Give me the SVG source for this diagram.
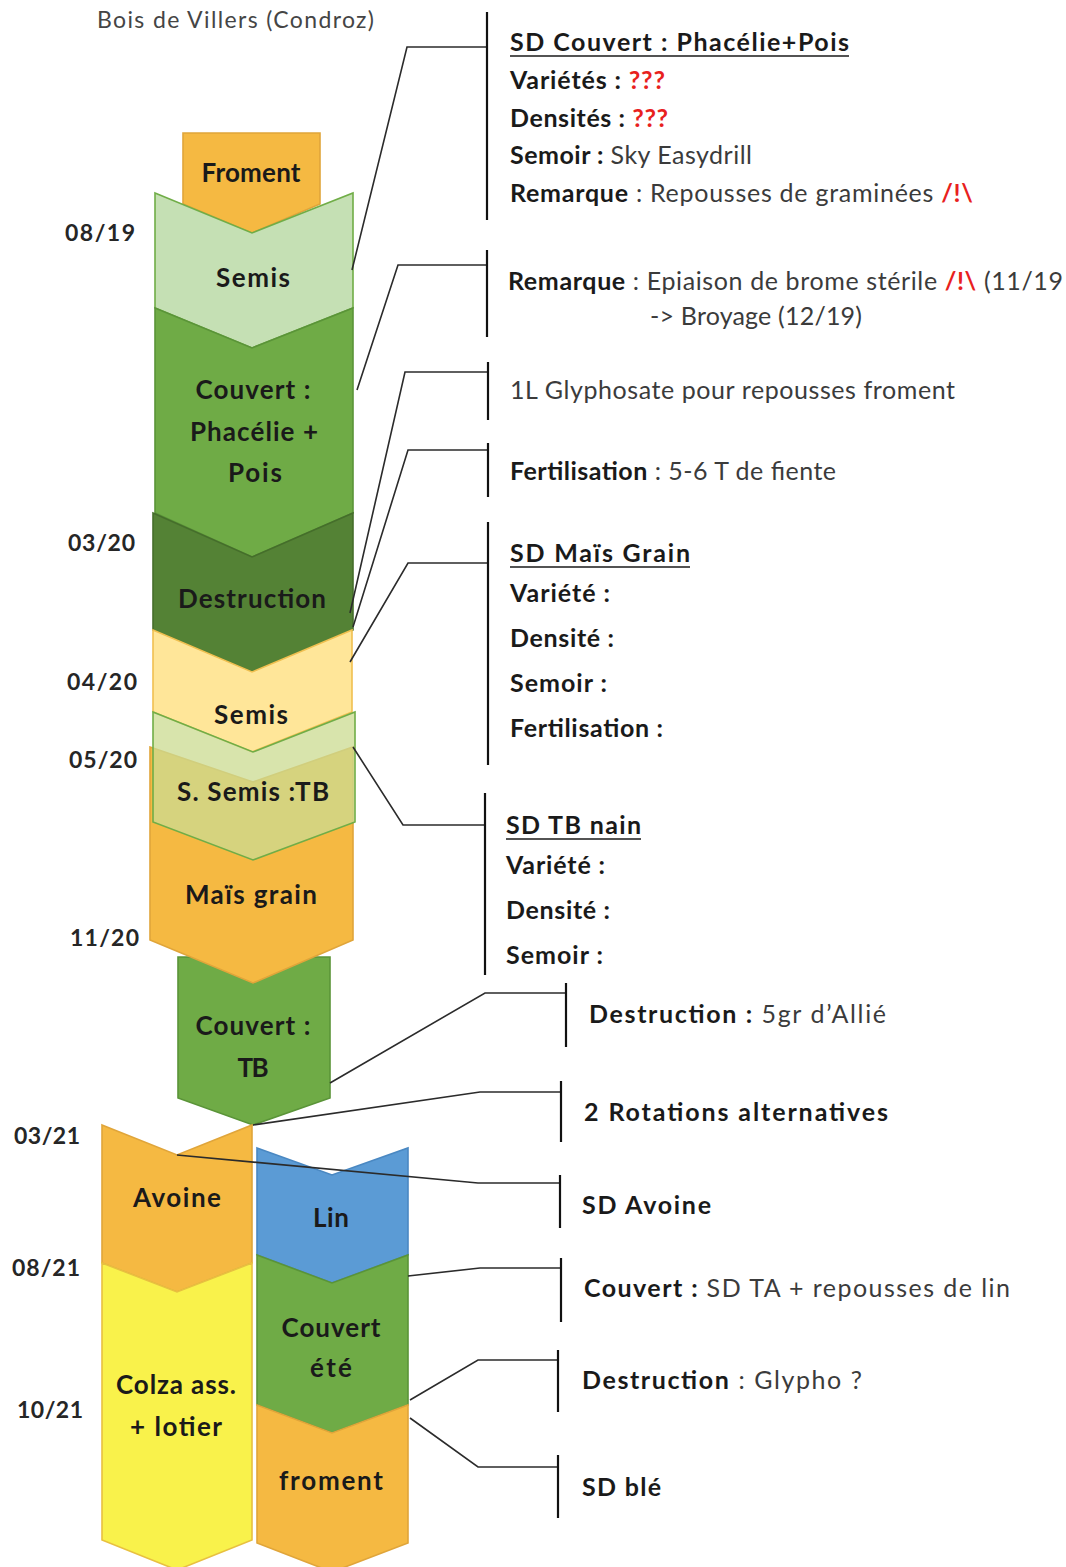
<svg xmlns="http://www.w3.org/2000/svg" width="1066" height="1567" viewBox="0 0 1066 1567">
<style>
.lbl{font-family:Lato,"Liberation Sans",sans-serif;font-weight:bold;font-size:26px;text-anchor:middle;fill:#1a1a1a}
.dt{font-family:Lato,"Liberation Sans",sans-serif;font-weight:bold;font-size:23px;fill:#262626}
.t{font-family:Lato,"Liberation Sans",sans-serif;font-size:25px;fill:#3b3b3b}
.b{font-weight:bold;fill:#1a1a1a}
.r{fill:#e8211d;font-weight:bold}
.ul{stroke:#1a1a1a;stroke-width:1.6}
.con{fill:none;stroke:#2b2b2b;stroke-width:1.6}
.bar{stroke:#111;stroke-width:2.2}
.sw{stroke-width:1.6;stroke-linejoin:miter}
</style>
<text x="97" y="28" class="t" style="font-size:23px;fill:#454545" textLength="277">Bois de Villers (Condroz)</text>

<!-- dates -->
<g id="dates">
<text class="dt" x="65" y="241" textLength="70">08/19</text>
<text class="dt" x="68" y="551" textLength="67">03/20</text>
<text class="dt" x="67" y="690" textLength="70">04/20</text>
<text class="dt" x="69" y="768" textLength="68">05/20</text>
<text class="dt" x="70" y="946" textLength="69">11/20</text>
<text class="dt" x="14" y="1144" textLength="66">03/21</text>
<text class="dt" x="12" y="1276" textLength="68">08/21</text>
<text class="dt" x="17" y="1418" textLength="66">10/21</text>
</g>

<!-- chevrons -->
<g id="froment1"><polygon class="sw" points="183,133 320,133 320,204 252,233 183,204" fill="#f5b942" stroke="#e0a53a"/><text class="lbl" x="251" y="182" textLength="99">Froment</text></g>
<g id="semis1"><polygon class="sw" points="155,193 252,233 353,193 353,308 252,348 155,308" fill="#c5e0b4" stroke="#70ad47"/><text class="lbl" x="253" y="287" textLength="74">Semis</text></g>
<g id="couvert1"><polygon class="sw" points="155,308 252,348 353,308 353,513 252,557 155,513" fill="#6fab46" stroke="#5a9438"/><text class="lbl" x="253" y="399" textLength="115">Couvert :</text><text class="lbl" x="254" y="441" textLength="128">Phacélie +</text><text class="lbl" x="255" y="482" textLength="54">Pois</text></g>
<g id="destruction1"><polygon class="sw" points="153,513 252,557 353,513 353,630 252,672 153,630" fill="#548235" stroke="#456e2b"/><text class="lbl" x="252" y="608" textLength="148">Destruction</text></g>
<g id="semis2"><polygon class="sw" points="153,630 252,672 352,630 352,712 252,752 153,712" fill="#ffe699" stroke="#f0c050"/><text class="lbl" x="251" y="724" textLength="74">Semis</text></g>
<g id="couverttb"><polygon class="sw" points="178,957 330,957 330,1098 253,1125 178,1098" fill="#6fab46" stroke="#5a9438"/><text class="lbl" x="253" y="1035" textLength="115">Couvert :</text><text class="lbl" x="253" y="1077" textLength="31">TB</text></g>
<g id="mais"><polygon class="sw" points="150,747 253,782 353,747 353,940 253,983 150,940" fill="#f5b942" stroke="#e0a53a"/><text class="lbl" x="251" y="904" textLength="132">Maïs grain</text></g>
<g id="ssemis"><polygon class="sw" points="153,712 253,752 355,712 355,822 253,860 153,822" fill="#ccdc92" fill-opacity="0.76" stroke="#70ad47"/><text class="lbl" x="253" y="801" textLength="152">S. Semis :TB</text></g>
<g id="avoine"><polygon class="sw" points="102,1125 177,1155 252,1125 252,1263 177,1292 102,1263" fill="#f5b942" stroke="#e0a53a"/><text class="lbl" x="177" y="1207" textLength="88">Avoine</text></g>
<g id="colza"><polygon class="sw" points="102,1263 177,1292 252,1263 252,1540 177,1570 102,1540" fill="#f9f24b" stroke="#e8c040"/><text class="lbl" x="176" y="1394" textLength="120">Colza ass.</text><text class="lbl" x="176" y="1436" textLength="92">+ lotier</text></g>
<g id="lin"><polygon class="sw" points="257,1148 332,1175 408,1148 408,1255 332,1283 257,1255" fill="#5b9bd5" stroke="#4a88c2"/><text class="lbl" x="331" y="1227" textLength="36">Lin</text></g>
<g id="couvertete"><polygon class="sw" points="257,1255 332,1283 408,1255 408,1405 332,1433 257,1405" fill="#6fab46" stroke="#5a9438"/><text class="lbl" x="331" y="1337" textLength="99">Couvert</text><text class="lbl" x="331" y="1377" textLength="42">été</text></g>
<g id="froment2"><polygon class="sw" points="257,1405 332,1433 408,1405 408,1543 332,1572 257,1543" fill="#f5b942" stroke="#e0a53a"/><text class="lbl" x="331" y="1490" textLength="104">froment</text></g>

<!-- connectors -->
<g id="connectors">
<polyline class="con" points="352,270 407,47 487,47"/>
<polyline class="con" points="357,390 398,265 487,265"/>
<polyline class="con" points="350,613 405,372 487,372"/>
<polyline class="con" points="353,627 408,450 487,450"/>
<polyline class="con" points="350,662 408,563 487,563"/>
<polyline class="con" points="353,747 403,825 485,825"/>
<polyline class="con" points="330,1083 485,993 566,993"/>
<polyline class="con" points="253,1125 480,1092 561,1092"/>
<polyline class="con" points="177,1155 478,1183 560,1183"/>
<polyline class="con" points="408,1276 480,1268 561,1268"/>
<polyline class="con" points="410,1400 478,1360 558,1360"/>
<polyline class="con" points="410,1418 478,1467 558,1467"/>
<line class="bar" x1="487" y1="12" x2="487" y2="220"/>
<line class="bar" x1="487" y1="250" x2="487" y2="337"/>
<line class="bar" x1="488" y1="362" x2="488" y2="420"/>
<line class="bar" x1="488" y1="443" x2="488" y2="497"/>
<line class="bar" x1="488" y1="522" x2="488" y2="765"/>
<line class="bar" x1="485" y1="793" x2="485" y2="975"/>
<line class="bar" x1="566" y1="983" x2="566" y2="1047"/>
<line class="bar" x1="561" y1="1081" x2="561" y2="1142"/>
<line class="bar" x1="560" y1="1175" x2="560" y2="1228"/>
<line class="bar" x1="561" y1="1258" x2="561" y2="1322"/>
<line class="bar" x1="558" y1="1350" x2="558" y2="1412"/>
<line class="bar" x1="558" y1="1455" x2="558" y2="1518"/>
</g>

<!-- notes -->
<g id="note1">
<text class="t b" x="510" y="51" textLength="339">SD Couvert : Phacélie+Pois</text>
<line class="ul" x1="510" y1="56" x2="849" y2="56"/>
<text class="t" x="510" y="89" textLength="155"><tspan class="b">Variétés : </tspan><tspan class="r">???</tspan></text>
<text class="t" x="510" y="127" textLength="158"><tspan class="b">Densités : </tspan><tspan class="r">???</tspan></text>
<text class="t" x="510" y="164" textLength="242"><tspan class="b">Semoir : </tspan>Sky Easydrill</text>
<text class="t" x="510" y="202" textLength="463"><tspan class="b">Remarque</tspan> : Repousses de graminées <tspan class="r">/!\</tspan></text>
</g>
<g id="note2">
<text class="t" x="508" y="290" textLength="555"><tspan class="b">Remarque</tspan> : Epiaison de brome stérile <tspan class="r">/!\</tspan> (11/19</text>
<text class="t" x="650" y="325" textLength="212">-&gt; Broyage (12/19)</text>
</g>
<g id="note3"><text class="t" x="510" y="399" textLength="445">1L Glyphosate pour repousses froment</text></g>
<g id="note4"><text class="t" x="510" y="480" textLength="326"><tspan class="b">Fertilisation</tspan> : 5-6 T de fiente</text></g>
<g id="note5">
<text class="t b" x="510" y="562" textLength="180">SD Maïs Grain</text>
<line class="ul" x1="510" y1="567" x2="690" y2="567"/>
<text class="t b" x="510" y="602" textLength="100">Variété :</text>
<text class="t b" x="510" y="647" textLength="104">Densité :</text>
<text class="t b" x="510" y="692" textLength="97">Semoir :</text>
<text class="t b" x="510" y="737" textLength="153">Fertilisation :</text>
</g>
<g id="note6">
<text class="t b" x="506" y="834" textLength="135">SD TB nain</text>
<line class="ul" x1="506" y1="839" x2="641" y2="839"/>
<text class="t b" x="506" y="874" textLength="99">Variété :</text>
<text class="t b" x="506" y="919" textLength="104">Densité :</text>
<text class="t b" x="506" y="964" textLength="97">Semoir :</text>
</g>
<g id="note7"><text class="t" x="589" y="1023" textLength="297"><tspan class="b">Destruction : </tspan>5gr d’Allié</text></g>
<g id="note8"><text class="t b" x="584" y="1121" textLength="304">2 Rotations alternatives</text></g>
<g id="note9"><text class="t b" x="582" y="1214" textLength="129">SD Avoine</text></g>
<g id="note10"><text class="t" x="584" y="1297" textLength="426"><tspan class="b">Couvert : </tspan>SD TA + repousses de lin</text></g>
<g id="note11"><text class="t" x="582" y="1389" textLength="280"><tspan class="b">Destruction</tspan> : Glypho ?</text></g>
<g id="note12"><text class="t b" x="582" y="1496" textLength="79">SD blé</text></g>
</svg>
